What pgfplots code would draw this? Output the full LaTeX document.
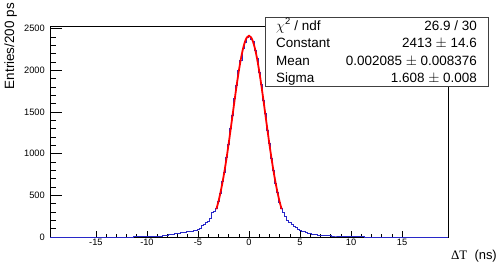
\documentclass[border=0pt]{standalone}
\usepackage{pgfplots}
\pgfplotsset{compat=1.18}
\usepackage{fontspec}
\setmainfont{Liberation Sans}
\newfontfamily\seriffont{Liberation Serif}
\definecolor{histblue}{RGB}{40,40,200}
\pgfplotstableread{
x y
-19.5 0
-12.1 1
-11.9 0
-11.7 1
-11.5 1
-11.3 2
-11.1 2
-10.9 3
-10.7 3
-10.5 4
-10.3 4
-10.1 5
-9.9 6
-9.7 6
-9.5 7
-9.3 8
-9.1 9
-8.9 10
-8.7 12
-8.5 15
-8.3 22
-8.1 25
-7.9 27
-7.7 30
-7.5 34
-7.3 38
-7.1 40
-6.9 45
-6.7 50
-6.5 52
-6.3 58
-6.1 62
-5.9 65
-5.7 72
-5.5 80
-5.3 85
-5.1 92
-4.9 100
-4.7 145
-4.5 150
-4.3 180
-4.1 190
-3.9 225
-3.7 295
-3.5 305
-3.3 345
-3.1 430
-2.9 520
-2.7 665
-2.5 780
-2.3 955
-2.1 1105
-1.9 1300
-1.7 1460
-1.5 1665
-1.3 1815
-1.1 2000
-0.9 2120
-0.7 2265
-0.5 2330
-0.3 2390
-0.1 2405
0.1 2370
0.3 2350
0.5 2240
0.7 2140
0.9 1975
1.1 1835
1.3 1640
1.5 1480
1.7 1280
1.9 1120
2.1 940
2.3 800
2.5 645
2.7 535
2.9 415
3.1 340
3.3 300
3.5 245
3.7 200
3.9 180
4.1 150
4.3 125
4.5 110
4.7 90
4.9 82
5.1 70
5.3 62
5.5 56
5.7 48
5.9 42
6.1 36
6.3 32
6.5 28
6.7 25
6.9 22
7.1 20
7.3 19
7.5 17
7.7 15
7.9 14
8.1 13
8.3 12
8.5 12
8.7 11
8.9 11
9.1 10
9.3 9
9.5 9
9.7 8
9.9 7
10.1 6
10.3 5
10.5 4
10.7 3
10.9 2
11.1 2
11.3 1
11.5 1
11.7 1
11.9 0
19.5 0
}\histdata
\pgfplotstableread{
x y
-3.2 333
-3.0 423
-2.8 530
-2.6 653
-2.4 792
-2.2 946
-2.0 1113
-1.8 1290
-1.6 1471
-1.4 1652
-1.2 1827
-1.0 1989
-0.8 2132
-0.6 2251
-0.4 2340
-0.2 2394
0.0 2413
0.2 2394
0.4 2340
0.6 2251
0.8 2132
1.0 1989
1.2 1827
1.4 1652
1.6 1471
1.8 1290
2.0 1113
2.2 946
2.4 792
2.6 653
2.8 530
3.0 423
3.2 333
}\fitdata
\begin{document}
\begin{tikzpicture}[x=1bp,y=1bp]
\path[use as bounding box] (0,0) rectangle (498,263);
\pgfplotsset{base/.style={
  at={(50bp,26bp)}, anchor=south west, scale only axis,
  width=398bp, height=211bp,
  xmin=-19.5, xmax=19.5, ymin=0, ymax=2530,
  tick align=inside,
  axis line style={line width=0.8bp, black},
  every tick/.style={black, line width=0.6bp},
  minor tick style={black, line width=0.6bp},
  tick label style={font=\fontsize{9.3}{10}\selectfont, inner sep=0pt},
}}
% y ticks (longer, ROOT style)
\begin{axis}[base,
  xtick=\empty,
  ytick={0,500,1000,1500,2000,2500},
  yticklabels={0,500,1000,1500,2000,2500},
  ytick pos=left, minor y tick num=4,
  major tick length=11.5bp, minor tick length=6bp,
  yticklabel shift=5bp,
]
\end{axis}
% x ticks, data
\begin{axis}[base,
  ytick=\empty,
  xtick={-15,-10,-5,0,5,10,15},
  xticklabels={-15,-10,-5,0,5,10,15},
  xtick pos=bottom, minor x tick num=4,
  major tick length=6bp, minor tick length=3bp,
  xticklabel shift=1.5bp,
  clip=true,
]
\addplot[const plot mark left, histblue, line width=0.7bp] table[x=x,y=y] {\histdata};
\addplot[smooth, red, line width=1.8bp] table[x=x,y=y] {\fitdata};
\end{axis}
% axis titles
\node[rotate=90, anchor=south east, inner sep=0pt, font=\fontsize{13.5}{14}\selectfont] at (17,260) {Entries/200 ps};
\node[anchor=base east, inner sep=0pt, font=\fontsize{13}{14}\selectfont] at (497,4) {{\seriffont ΔT}\ \ (ns)};
% stat box
\draw[draw=black!75, line width=0.9bp, fill=white] (265,177) rectangle (488,246);
\begin{scope}[every node/.style={inner sep=0pt, font=\fontsize{13.5}{14}\selectfont}]
\node[anchor=base west] at (276,233) {$\chi$\textsuperscript{2} / ndf};
\node[anchor=base east] at (477,233) {26.9 / 30};
\node[anchor=base west] at (276,215.5) {Constant};
\node[anchor=base east] at (477,215.5) {2413 $\pm$ 14.6};
\node[anchor=base west] at (276,198) {Mean};
\node[anchor=base east] at (477,198) {0.002085 $\pm$ 0.008376};
\node[anchor=base west] at (276,180.5) {Sigma};
\node[anchor=base east] at (477,180.5) {1.608 $\pm$ 0.008};
\end{scope}
\end{tikzpicture}
\end{document}
